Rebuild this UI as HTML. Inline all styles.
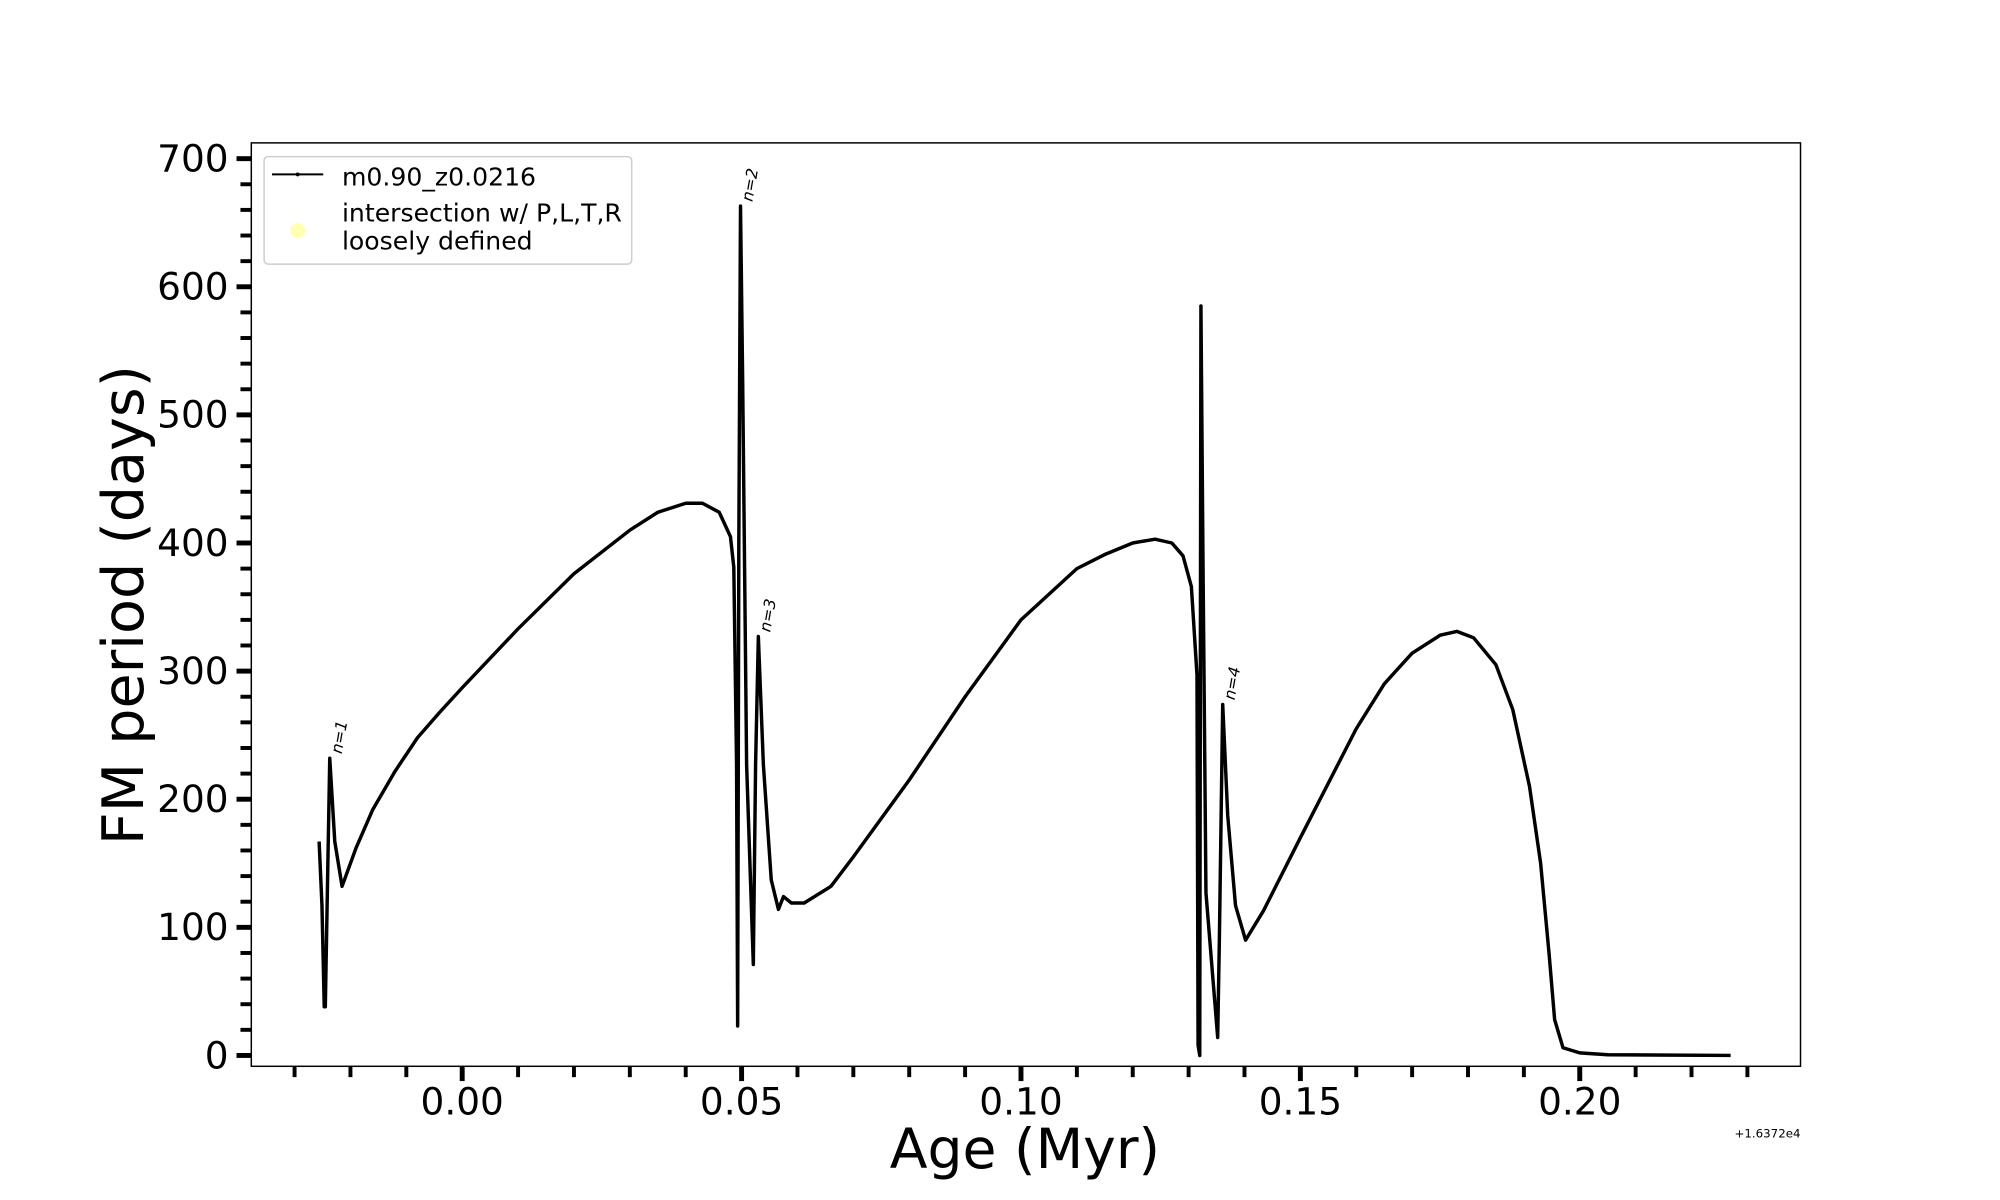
<!DOCTYPE html>
<html><head><meta charset="utf-8"><style>
html,body{margin:0;padding:0;background:#fff;}
svg{display:block;font-family:"DejaVu Sans","Liberation Sans",sans-serif;}
</style></head><body>
<svg id="chart" width="2000" height="1200" viewBox="0 0 2000 1200" xmlns="http://www.w3.org/2000/svg">
<g transform="translate(0,-1) scale(0.9855)">
<rect x="255" y="146" width="1572" height="937" fill="#fff" stroke="#000" stroke-width="1.5"/>
<g id="ticks"></g>
<g id="series"></g>
<g id="annots"></g>
<text transform="translate(145,615) rotate(-90)" text-anchor="middle" font-size="58">FM period (days)</text>
<text x="1040" y="1186" text-anchor="middle" font-size="56">Age (Myr)</text>
<text x="1827" y="1155" text-anchor="end" font-size="12">+1.6372e4</text>
<g>
<rect x="268" y="160" width="373" height="109" rx="4" fill="#fff" stroke="#ccc" stroke-width="1.5"/>
<line x1="276" y1="178" x2="328" y2="178" stroke="#000" stroke-width="2"/>
<circle cx="302" cy="178" r="2" fill="#000"/>
<text x="347" y="189" font-size="25.5">m0.90_z0.0216</text>
<circle cx="302" cy="235" r="7.5" fill="#ffffb0"/>
<text x="347" y="226" font-size="25.5">intersection w/ P,L,T,R</text>
<text x="347" y="254" font-size="25.5">loosely defined</text>
</g>
</g>
</svg>
<script>
const ages = [-0.0256,-0.0251,-0.0247,-0.0245,-0.0237,-0.0228,-0.0215,-0.019,-0.016,-0.012,-0.008,-0.004,0,0.01,0.02,0.03,0.035,0.040,0.043,0.046,0.048,0.0486,0.0491,0.0493,0.0495,0.0498,0.0502,0.0509,0.0521,0.0525,0.0530,0.0539,0.0553,0.0566,0.0575,0.0589,0.0612,0.066,0.07,0.08,0.09,0.10,0.11,0.115,0.12,0.124,0.127,0.129,0.1305,0.1315,0.1317,0.1320,0.1322,0.1326,0.1331,0.1342,0.1352,0.1355,0.1361,0.1370,0.1384,0.1402,0.1434,0.15,0.16,0.165,0.17,0.175,0.178,0.181,0.185,0.188,0.191,0.193,0.1945,0.1955,0.197,0.200,0.205,0.227];
const periods = [167,117,38,38,232,167,132,162,192,222,248,268,287,333,376,410,424,431,431,424,405,381,227,23,400,663,526,227,71,227,327,227,137,114,124,119,119,132,155,215,280,340,380,391,400,403,400,390,366,297,8,0,585,376,127,68,14,90,274,187,117,90,113,170,255,290,314,328,331,326,305,270,210,150,80,28,6,2,0.5,0];
const xTickLabels = ["0.00","0.05","0.10","0.15","0.20"];
const xTickValues = [0,0.05,0.10,0.15,0.20];
const yTickValues = [0,100,200,300,400,500,600,700];
const annotLabels = ["n=1","n=2","n=3","n=4"];
const annotAges = [-0.0237,0.0498,0.0530,0.1361];
const annotPeriods = [232,663,327,274];

const X = v => 469 + v*(1603-469)/0.2;
const Y = v => 1072 - v*(1072-162)/700;
const NS = "http://www.w3.org/2000/svg";
function mk(tag, attrs, parent){const e=document.createElementNS(NS,tag);for(const k in attrs)e.setAttribute(k,attrs[k]);parent.appendChild(e);return e;}

const ticks = document.getElementById('ticks');
for(let i=-3;i<=23;i++){
  const v=i*0.01; const major = i%5===0;
  const t=mk('line',{x1:X(v),x2:X(v),y1:1083,y2:1083+(major?15:11),stroke:'#000','stroke-width':major?5:4},ticks);
  
  
}
xTickValues.forEach((v,i)=>{
  const t=mk('text',{x:X(v),y:1132,'text-anchor':'middle','font-size':38},ticks);
  t.textContent=xTickLabels[i];
  
  
});
for(let v=0;v<=700;v+=20){
  const major = v%100===0;
  const t=mk('line',{x1:255,x2:255-(major?15:11),y1:Y(v),y2:Y(v),stroke:'#000','stroke-width':major?5:4},ticks);
  
  
}
yTickValues.forEach(v=>{
  const t=mk('text',{x:232,y:Y(v)+13,'text-anchor':'end','font-size':38},ticks);
  t.textContent=String(v);
  
  
});

const series=document.getElementById('series');
const d = ages.map((a,i)=>(i?'L':'M')+X(a).toFixed(1)+','+Y(periods[i]).toFixed(1)).join(' ');
const p=mk('path',{d:d,fill:'none',stroke:'#000','stroke-width':3.5,'stroke-linejoin':'round'},series);



const annots=document.getElementById('annots');
annotLabels.forEach((s,i)=>{
  const x=X(annotAges[i])+12, y=Y(annotPeriods[i])-4;
  const t=mk('text',{transform:`translate(${x},${y}) rotate(-80)`,'font-size':16,'font-style':'italic'},annots);
  t.textContent=s;
  
  
});
</script>
</body></html>
